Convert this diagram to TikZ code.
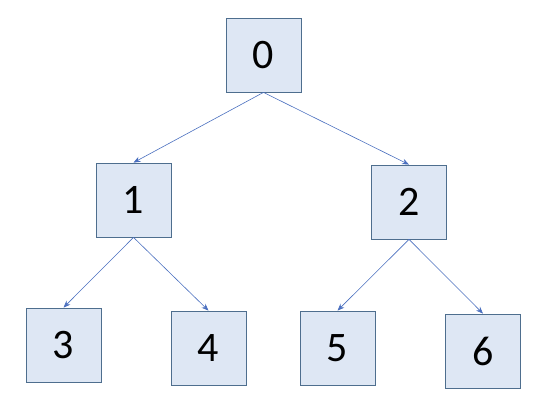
\documentclass[tikz,border=0pt]{standalone}
\usepackage{fontspec}
\setmainfont{Carlito}
\usepackage{tikz}
\usetikzlibrary{arrows.meta}

\definecolor{boxfill}{HTML}{DEE7F4}
\definecolor{boxline}{HTML}{4E6E8E}
\definecolor{edgeblue}{HTML}{4A6FBF}

\tikzset{
  treebox/.style={draw=boxline, line width=0.8pt, fill=boxfill,
    minimum width=75pt, minimum height=74pt, inner sep=0pt,
    font=\fontsize{42}{50}\selectfont},
  edge/.style={draw=edgeblue, line width=0.6pt, -{Stealth[length=7pt,width=5.5pt]}}
}

\begin{document}
\begin{tikzpicture}[x=1pt,y=-1pt]
  \useasboundingbox (0,0) rectangle (540,404);
  % tree nodes
  \foreach \x/\y/\name in {263.5/55/0, 133.5/200/1, 409/202/2, 63.5/345/3, 208.5/348/4, 337.5/348/5, 483/351/6}{
    \node[treebox] (n\name) at (\x,\y) {\name};
  }
  % parent to child
  \foreach \p/\c in {0/1, 0/2, 1/3, 1/4, 2/5, 2/6}{
    \draw[edge] (n\p.south) -- (n\c.north);
  }
\end{tikzpicture}
\end{document}
